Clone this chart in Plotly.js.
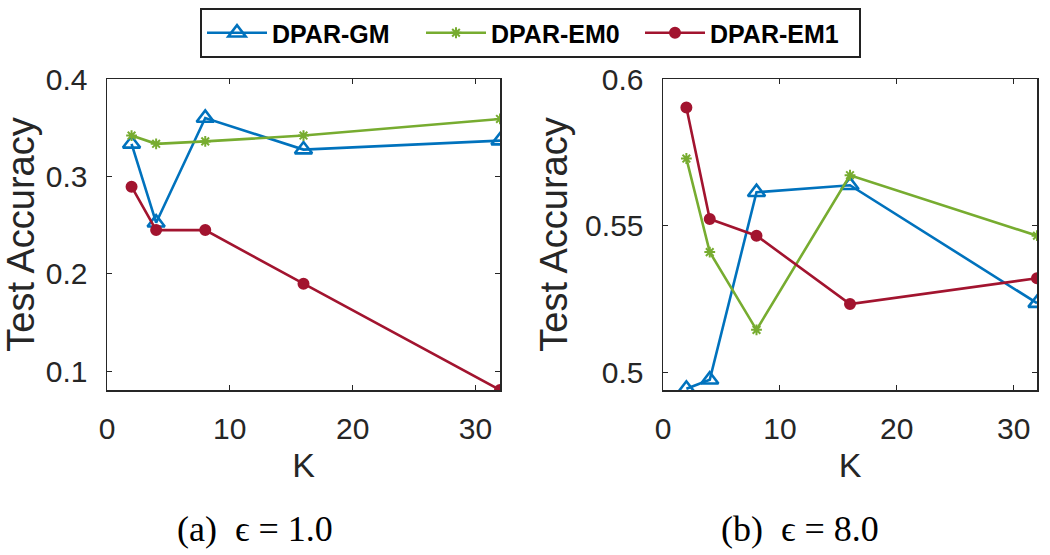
<!DOCTYPE html>
<html><head><meta charset="utf-8">
<script src="https://cdn.plot.ly/plotly-3.0.1.min.js"></script>
<style>html,body{margin:0;padding:0;background:#fff}#chart{width:1050px;height:555px}</style>
</head><body><div id="chart"></div>
<script>
const K = [2, 4, 8, 16, 32];
const seriesNames = ['DPAR-GM', 'DPAR-EM0', 'DPAR-EM1'];
// (a) epsilon = 1.0
const gmA  = [0.3335, 0.2526, 0.360, 0.3276, 0.3368];
const em0A = [0.342, 0.3335, 0.336, 0.342, 0.359];
const em1A = [0.2895, 0.245, 0.245, 0.190, 0.081];
// (b) epsilon = 8.0
const gmB  = [0.4944, 0.4975, 0.5614, 0.5638, 0.5236];
const em0B = [0.5729, 0.5410, 0.5145, 0.5672, 0.5466];
const em1B = [0.5903, 0.5523, 0.5466, 0.5233, 0.5321];
const xTicks = [0, 10, 20, 30];
const yTicksA = [0.1, 0.2, 0.3, 0.4];
const yTicksB = [0.5, 0.55, 0.6];
const yTickTextB = ['0.5', '0.55', '0.6'];
const captions = ['(a)  ϵ = 1.0', '(b)  ϵ = 8.0'];
const axisTitleX = 'K', axisTitleY = 'Test Accuracy';

const colors = ['#0072BD', '#77AC30', '#A2142F'];
const font = 'Liberation Sans, Arial, sans-serif';
const axColor = '#262626';

function mk(name, y, i, xa, ya, show) {
  const sym = ['triangle-up-open', 'asterisk-open', 'circle'][i];
  const size = [15, 9, 10][i];
  return {
    x: K, y: y, name: name, type: 'scatter', mode: 'lines+markers',
    xaxis: xa, yaxis: ya, showlegend: show,
    line: {color: colors[i], width: 2.6},
    marker: {symbol: sym, size: size, color: colors[i], line: {color: colors[i], width: i === 0 ? 2.6 : 2}}
  };
}
const data = [
  mk(seriesNames[0], gmA, 0, 'x', 'y', true),
  mk(seriesNames[1], em0A, 1, 'x', 'y', true),
  mk(seriesNames[2], em1A, 2, 'x', 'y', true),
  mk(seriesNames[0], gmB, 0, 'x2', 'y2', false),
  mk(seriesNames[1], em0B, 1, 'x2', 'y2', false),
  mk(seriesNames[2], em1B, 2, 'x2', 'y2', false)
];
function xax(dom) {
  return {domain: dom, range: [0, 32], tickvals: xTicks, ticks: 'inside', ticklen: 5, tickcolor: axColor,
    showline: true, linecolor: axColor, linewidth: 1.5, mirror: 'ticks', showgrid: false, zeroline: false,
    automargin: false,
    tickfont: {family: font, size: 30, color: axColor}, ticklabelstandoff: 11,
    title: {text: axisTitleX, font: {family: font, size: 34, color: axColor}, standoff: 9}};
}
function yax(dom, range, tv, tt, anchor) {
  const o = {domain: dom, range: range, tickvals: tv, ticks: 'inside', ticklen: 5, tickcolor: axColor,
    showline: true, linecolor: axColor, linewidth: 1.5, mirror: 'ticks', showgrid: false, zeroline: false,
    automargin: false,
    tickfont: {family: font, size: 30, color: axColor}, anchor: anchor, ticklabelstandoff: 12,
    title: {text: axisTitleY, font: {family: font, size: 38, color: axColor}, standoff: 6}};
  if (tt) o.ticktext = tt;
  return o;
}
const ydom = [1 - 390/555, 1 - 79/555];
const layout = {
  width: 1050, height: 555, margin: {l: 0, r: 0, t: 0, b: 0, autoexpand: false},
  paper_bgcolor: '#fff', plot_bgcolor: '#fff',
  xaxis: xax([107/1050, 500/1050]),
  yaxis: yax(ydom, [0.081, 0.4], yTicksA, null, 'x'),
  xaxis2: Object.assign(xax([663/1050, 1037/1050]), {anchor: 'y2'}),
  yaxis2: yax(ydom, [0.494, 0.6], yTicksB, yTickTextB, 'x2'),
  showlegend: true,
  legend: {orientation: 'h', x: 200/1050, xanchor: 'left', y: 1 - 8/555, yanchor: 'top',
    font: {family: font, size: 25, color: '#000', weight: 'bold'},
    bordercolor: '#222', borderwidth: 2, bgcolor: '#fff', itemwidth: 60,
    entrywidth: 144, entrywidthmode: 'pixels'},
  annotations: [
    {text: captions[0], x: 255/1050, y: 1 - 529/555, xref: 'paper', yref: 'paper', xanchor: 'center', yanchor: 'middle', showarrow: false,
     font: {family: 'Liberation Serif, serif', size: 36, color: '#000'}},
    {text: captions[1], x: 800/1050, y: 1 - 529/555, xref: 'paper', yref: 'paper', xanchor: 'center', yanchor: 'middle', showarrow: false,
     font: {family: 'Liberation Serif, serif', size: 36, color: '#000'}}
  ]
};
Plotly.newPlot('chart', data, layout, {displayModeBar: false, staticPlot: true});
</script></body></html>
